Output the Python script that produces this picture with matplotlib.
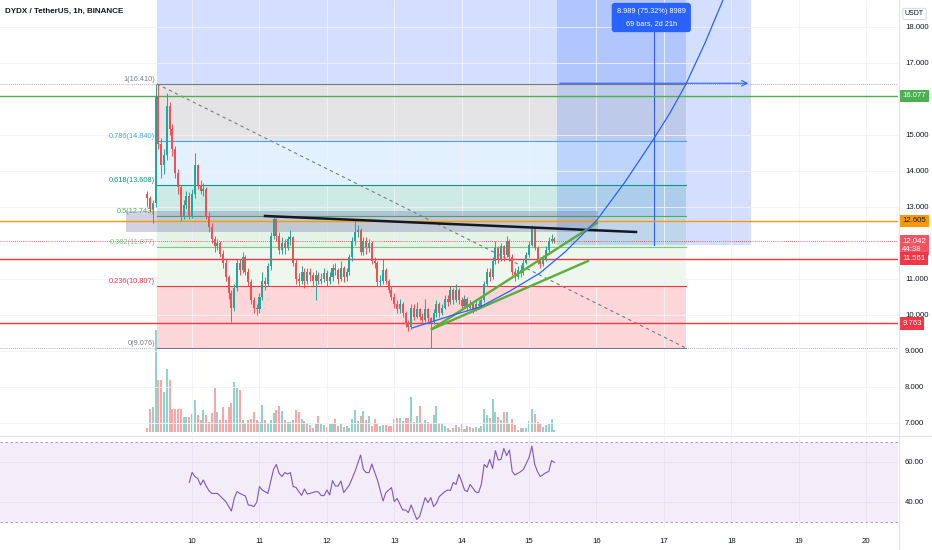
import numpy as np
import matplotlib
matplotlib.use('Agg')
import matplotlib.pyplot as plt
from matplotlib.lines import Line2D
from matplotlib.patches import Rectangle
from matplotlib.transforms import blended_transform_factory

plt.rcParams['font.family'] = ['Liberation Sans', 'DejaVu Sans']

# ---- candles: 1h bars, first bar on day 9 at 08:00 ----
first_day = 9 + 8 / 24
first_open = 13.35
closes = [13.25, 12.95, 13.10, 16.05, 14.75, 14.15, 14.45, 15.80, 15.15, 14.60,
          13.95, 13.55, 12.75, 13.05, 13.30, 12.75, 13.35, 14.15, 13.60, 13.45,
          13.50, 12.75, 12.45, 12.10, 11.90, 12.00, 11.70, 11.45, 11.05, 10.60,
          10.20, 10.75, 11.45, 11.25, 11.60, 11.20, 10.90, 10.40, 10.20, 10.15,
          10.50, 10.95, 10.85, 11.35, 12.20, 12.65, 12.20, 11.80, 12.00, 11.85,
          12.10, 12.15, 11.45, 11.00, 10.95, 11.20, 10.95, 11.20, 11.10, 10.95,
          11.10, 10.95, 11.00, 11.15, 10.95, 11.05, 11.30, 11.25, 11.00, 11.30,
          11.05, 11.20, 11.60, 12.05, 12.30, 12.35, 11.75, 12.05, 11.85, 12.00,
          11.50, 11.45, 10.90, 10.95, 11.25, 10.95, 10.70, 10.50, 10.30, 10.15,
          10.30, 10.05, 9.75, 9.65, 10.20, 9.95, 10.15, 9.95, 9.85, 10.15,
          9.90, 9.80, 10.05, 10.30, 10.05, 10.20, 10.45, 10.35, 10.70, 10.40,
          10.70, 10.40, 10.25, 10.45, 10.20, 10.30, 10.15, 10.30, 10.25, 10.40,
          10.85, 11.20, 11.05, 11.50, 11.85, 11.55, 11.90, 11.65, 12.05, 11.60,
          11.20, 11.05, 11.25, 11.15, 11.45, 11.65, 11.95, 12.40, 11.85, 11.50,
          11.40, 11.55, 11.80, 12.05, 12.10, 12.04]
highs = [13.45, 13.30, 13.20, 16.41, 16.41, 14.90, 14.60, 16.15, 15.90, 15.30,
         14.70, 14.05, 13.60, 13.20, 13.45, 13.40, 13.50, 14.50, 14.20, 13.75,
         13.65, 13.55, 12.85, 12.55, 12.20, 12.10, 12.05, 11.80, 11.55, 11.10,
         10.70, 10.85, 11.55, 11.55, 11.75, 11.65, 11.30, 11.00, 10.50, 10.30,
         10.60, 11.20, 11.05, 11.45, 12.30, 12.75, 12.70, 12.30, 12.15, 12.10,
         12.20, 12.35, 12.20, 11.55, 11.15, 11.35, 11.30, 11.30, 11.30, 11.20,
         11.25, 11.20, 11.15, 11.30, 11.25, 11.20, 11.40, 11.45, 11.30, 11.50,
         11.35, 11.30, 11.70, 12.15, 12.65, 12.50, 12.40, 12.15, 12.15, 12.10,
         12.05, 11.60, 11.50, 11.10, 11.55, 11.30, 11.00, 10.80, 10.60, 10.40,
         10.45, 10.35, 10.10, 9.85, 10.30, 10.30, 10.35, 10.20, 10.05, 10.45,
         10.20, 9.95, 10.15, 10.40, 10.35, 10.30, 10.55, 10.55, 10.80, 10.75,
         10.85, 10.75, 10.50, 10.55, 10.50, 10.40, 10.35, 10.40, 10.40, 10.50,
         10.95, 11.30, 11.30, 11.60, 12.05, 11.90, 12.00, 11.95, 12.20, 12.10,
         11.70, 11.30, 11.35, 11.35, 11.55, 11.75, 12.05, 12.50, 12.45, 11.90,
         11.60, 11.65, 11.90, 12.15, 12.25, 12.15]
lows = [13.00, 12.85, 12.55, 13.00, 14.60, 13.80, 13.90, 14.30, 15.00, 14.40,
        13.80, 13.35, 12.60, 12.65, 12.95, 12.65, 12.70, 13.25, 13.50, 13.35,
        13.30, 12.65, 12.30, 12.00, 11.75, 11.80, 11.60, 11.30, 10.95, 10.45,
        9.80, 10.10, 10.65, 11.10, 11.15, 11.10, 10.80, 10.30, 10.05, 10.00,
        10.05, 10.40, 10.70, 10.80, 11.25, 12.10, 12.05, 11.70, 11.70, 11.70,
        11.80, 11.95, 11.35, 10.85, 10.80, 10.85, 10.75, 10.85, 10.95, 10.80,
        10.40, 10.85, 10.85, 10.90, 10.80, 10.85, 10.95, 11.10, 10.85, 10.95,
        10.90, 10.95, 11.10, 11.50, 11.95, 12.15, 11.65, 11.65, 11.70, 11.75,
        11.40, 11.30, 10.80, 10.80, 10.85, 10.85, 10.60, 10.40, 10.20, 10.05,
        10.05, 9.95, 9.65, 9.55, 9.60, 9.85, 9.90, 9.85, 9.75, 9.80,
        9.80, 9.08, 9.75, 9.95, 9.95, 10.00, 10.15, 10.25, 10.30, 10.30,
        10.35, 10.30, 10.15, 10.20, 10.10, 10.15, 10.05, 10.10, 10.15, 10.20,
        10.35, 10.80, 10.95, 11.00, 11.40, 11.45, 11.50, 11.50, 11.60, 11.50,
        11.10, 10.95, 11.00, 11.05, 11.10, 11.40, 11.60, 11.90, 11.80, 11.40,
        11.30, 11.35, 11.50, 11.75, 12.00, 11.98]
volumes = [4, 23, 25, 102, 52, 52, 40, 63, 52, 23, 23,
           23, 23, 15, 15, 15, 18, 32, 17, 12, 22,
           17, 10, 19, 44, 20, 12, 25, 12, 25, 29,
           50, 44, 42, 12, 8, 12, 13, 20, 12, 10,
           27, 12, 9, 12, 19, 22, 26, 21, 12, 10,
           10, 12, 22, 20, 13, 11, 9, 7, 4,
           8, 16, 8, 7, 5, 8, 8, 13, 6, 8,
           5, 6, 4, 13, 22, 11, 16, 21, 12, 16,
           6, 13, 8, 6, 7, 7, 6, 6, 13,
           14, 14, 11, 14, 14, 35, 10, 16, 26, 9,
           12, 10, 8, 17, 26, 9, 9, 6, 4,
           2, 4, 7, 5, 8, 3, 6, 5, 4,
           5, 4, 6, 23, 17, 14, 33, 20, 15, 12,
           20, 20, 9, 13, 7, 2, 4, 4, 4, 11,
           23, 18, 10, 9, 5, 7, 8, 13, 2]

# RSI(14) readings, keyed by bar index
rsi_bar = [15, 16, 17, 18, 19, 20, 21, 22, 23, 25, 26, 28, 30, 31, 32, 33, 35, 36, 37, 38,
           39, 40, 41, 43, 45, 46, 47, 48, 49, 50, 51, 52, 53, 54, 55, 56, 57, 58, 60, 61,
           62, 63, 64, 65, 66, 67, 68, 69, 70, 72, 74, 76, 77, 78, 79, 80, 82, 84, 85, 87,
           88, 89, 91, 92, 93, 94, 96, 97, 99, 100, 101, 102, 103, 104, 106, 107, 108, 109, 110, 111,
           112, 113, 114, 115, 117, 118, 119, 120, 121, 122, 123, 124, 125, 126, 127, 128, 129, 130, 131, 133,
           134, 136, 137, 138, 139, 140, 142, 143, 144, 145]
rsi_val = [49.8, 54.8, 52.7, 51.8, 48.5, 51.0, 48.0, 45.7, 44.3, 44.3, 43.0, 40.2, 35.5, 41.8, 45.2, 44.3, 43.0, 38.5, 38.3, 37.7,
           39.8, 47.7, 46.0, 44.3, 56.3, 58.8, 54.3, 52.7, 54.7, 54.0, 54.7, 47.7, 47.3, 45.2, 43.3, 46.5, 44.0, 44.3, 45.2, 45.0,
           43.2, 43.2, 46.0, 43.5, 50.7, 48.0, 48.0, 50.5, 44.7, 48.5, 55.2, 63.5, 56.3, 54.7, 54.7, 59.0, 51.0, 40.5, 44.7, 47.2,
           40.2, 41.8, 36.0, 36.0, 34.7, 38.5, 31.3, 32.7, 42.2, 39.7, 42.2, 37.7, 39.3, 42.7, 45.2, 46.0, 45.8, 49.8, 48.8, 53.8,
           50.2, 46.0, 45.2, 48.8, 45.0, 44.7, 48.8, 58.8, 57.3, 61.3, 56.8, 65.7, 61.0, 61.3, 66.8, 63.2, 66.0, 55.2, 53.5, 55.2,
           56.3, 62.3, 68.0, 58.8, 55.2, 52.7, 54.7, 55.2, 60.7, 59.8]

# ---- drawings ----
fib_ratios = [1, 0.786, 0.618, 0.5, 0.382, 0.236, 0]
fib_prices = [16.410, 14.840, 13.608, 12.743, 11.877, 10.807, 9.076]
fib_colors = ['#787b86', '#42a5f5', '#089981', '#4caf50', '#81c784', '#f23645', '#787b86']
fib_alpha = [0.2, 0.15, 0.2, 0.14, 0.14, 0.2]
fib_days = (9.479, 17.328)

hlines = [(16.077, '#4caf50', 'white'), (12.605, '#ff9800', '#131722'),
          (11.561, '#f23645', 'white'), (9.763, '#f23645', 'white')]
last_price = 12.042
countdown = '44:38'

zone_days = (9.019, 16.022)
zone_prices = (12.299, 12.882)
resist_days = (11.082, 16.586)
resist_prices = (12.743, 12.299)
support_days = (13.560, 16.007)
support_prices = (9.604, 12.549)
support2_days = (13.560, 15.874)
support2_prices = (9.604, 11.493)
arc_days = [13.263, 13.827, 14.272, 14.717, 15.162, 15.533, 15.859, 16.007, 16.423,
            16.838, 17.090, 17.328, 17.610, 17.877, 17.996]
arc_prices = [9.632, 9.966, 10.216, 10.660, 11.160, 11.743, 12.354, 12.632, 13.688,
              14.854, 15.604, 16.410, 17.549, 18.743, 19.300]
range_days = (15.414, 18.293)
range_prices = (11.934, 20.923)
range_text = '8.989 (75.32%) 8989\n69 bars, 2d 21h'

price_ticks = [7, 8, 9, 10, 11, 13, 14, 15, 17, 18]
day_ticks = list(range(10, 21))
rsi_ticks = [40, 60]

UP, DOWN = '#26a69a', '#ef5350'
TXT = '#131722'
GRID = '#f0f3fa'

W, H = 932, 550
fig = plt.figure(figsize=(W / 100, H / 100), dpi=100, facecolor='white')
ax = fig.add_axes([0, 1 - 435 / H, 898 / W, 435 / H])
ax_v = ax.twinx()
ax_r = fig.add_axes([0, 1 - 528 / H, 898 / W, 92 / H])

xlim = (7.15, 7.15 + 898 / 67.4)
ax.set_xlim(*xlim)
ax.set_ylim(6.66, 18.743)
ax_r.set_xlim(*xlim)
ax_r.set_ylim(27, 73)

n = len(closes)
t = first_day + np.arange(n) / 24
c = np.array(closes)
o = np.array([first_open] + closes[:-1])
col = np.where(c >= o, UP, DOWN)

# volume overlay (behind everything else)
ax_v.set_zorder(ax.get_zorder() - 1)
ax.patch.set_visible(False)
ax_v.bar(t, volumes, width=0.72 / 24, color=col, alpha=0.5, linewidth=0)
ax_v.set_ylim(-3.3, 431.7)
ax_v.set_axis_off()

# fib retracement
x0, x1 = fib_days
for k in range(len(fib_prices) - 1):
    ax.add_patch(Rectangle((x0, fib_prices[k + 1]), x1 - x0, fib_prices[k] - fib_prices[k + 1],
                           facecolor=fib_colors[k], alpha=fib_alpha[k], lw=0, zorder=1))
for r, p, cl in zip(fib_ratios, fib_prices, fib_colors):
    ax.plot([x0, x1], [p, p], color=cl, lw=0.8, zorder=2)
    ax.text(x0 - 0.03, p + 0.02, f'{r}({p:.3f})', color=cl, fontsize=5.3,
            ha='right', va='bottom', zorder=3)
for p in (fib_prices[0], fib_prices[-1]):
    ax.plot(xlim, [p, p], color='#9598a1', lw=0.6, ls=(0, (1, 1.5)), zorder=1.5)
ax.plot([x0, x1], [fib_prices[0], fib_prices[-1]], color='#787b86', lw=0.8,
        ls=(0, (3, 3)), zorder=3)

# blue rectangles
ax.add_patch(Rectangle((x0, fib_prices[0]), x1 - x0, 30, facecolor='#2962ff', alpha=0.2, lw=0, zorder=1))
rx0, rx1 = range_days
ax.add_patch(Rectangle((rx0, range_prices[0]), rx1 - rx0, range_prices[1] - range_prices[0],
                       facecolor='#2962ff', alpha=0.2, lw=0, zorder=1.2))
mid_day = (rx0 + rx1) / 2
ax.plot([mid_day, mid_day], [range_prices[0], 17.9], color='#2962ff', lw=0.8, zorder=4)
ax.annotate('', xy=(rx1, 16.43), xytext=(rx0, 16.43),
            arrowprops=dict(arrowstyle='->', color='#2962ff', lw=0.8), zorder=4)
ax.text(mid_day - 0.04, 18.52, range_text, ha='center', va='top', fontsize=5.3, color='white',
        linespacing=2.0, zorder=30,
        bbox=dict(boxstyle='round,pad=0.7,rounding_size=0.4', fc='#2962ff', ec='none'))

# supply zone
ax.add_patch(Rectangle((zone_days[0], zone_prices[0]), zone_days[1] - zone_days[0],
                       zone_prices[1] - zone_prices[0], facecolor='#6a6aa8', alpha=0.3,
                       lw=0, zorder=2.5))

# horizontal levels
for p, cl, _ in hlines:
    ax.axhline(p, color=cl, lw=1.0, zorder=4)
ax.axhline(last_price, color='#f23645', lw=0.6, ls=(0, (1, 1.5)), zorder=4)

# trend lines and arc
ax.plot(resist_days, resist_prices, color='#131722', lw=1.8, zorder=8)
ax.plot(support_days, support_prices, color='#5cad3c', lw=1.7, zorder=8)
ax.plot(support2_days, support2_prices, color='#5cad3c', lw=1.7, zorder=8)
ax.plot(arc_days, arc_prices, color='#2962ff', lw=0.9, zorder=8)

# candles
ax.vlines(t, lows, highs, colors=col, lw=0.7, zorder=6)
body = np.maximum(np.abs(c - o), 0.03)
ax.bar(t, body, bottom=np.minimum(o, c), width=0.72 / 24, color=col, lw=0, zorder=7)

# axes styling
ax.yaxis.tick_right()
ax.set_yticks(price_ticks)
ax.set_yticklabels([f'{v:.3f}' for v in price_ticks])
ax.set_xticks(day_ticks)
ax.tick_params(axis='x', length=0, labelbottom=False)
ax.tick_params(axis='y', length=0, pad=5, labelsize=5.6, labelcolor=TXT)
ax.grid(color=GRID, lw=0.6, zorder=0)
for s in ax.spines.values():
    s.set_visible(False)

tr = blended_transform_factory(ax.transAxes, ax.transData)
def tag(price, text, fc, tc, dy=0):
    ax.annotate(text, xy=(1, price), xycoords=tr, xytext=(3, dy), textcoords='offset points',
                ha='left', va='center', fontsize=5.6, color=tc, linespacing=1.1,
                annotation_clip=False, zorder=40,
                bbox=dict(boxstyle='square,pad=0.35', fc=fc, ec='none'))

tag(last_price, f'{last_price:.3f}\n{countdown}', '#f7525f', 'white', dy=-3)
for p, cl, tc in hlines:
    tag(p, f'{p:.3f}', cl, tc)
ax.annotate('USDT', xy=(1, 1), xycoords='axes fraction', xytext=(5, -10),
            textcoords='offset points', ha='left', va='center', fontsize=5, color=TXT,
            annotation_clip=False,
            bbox=dict(boxstyle='round,pad=0.3,rounding_size=0.2', fc='white', ec='#d1d4dc', lw=0.6))

# RSI pane
ax_r.axhspan(30, 70, color='#9c4dcc', alpha=0.1, lw=0)
for lvl in (30, 70):
    ax_r.axhline(lvl, color='#9598a1', lw=0.6, ls=(0, (3, 3)))
ax_r.plot(t[rsi_bar], rsi_val, color='#7e57c2', lw=0.8)
ax_r.yaxis.tick_right()
ax_r.set_yticks(rsi_ticks)
ax_r.set_yticklabels([f'{v:.2f}' for v in rsi_ticks])
ax_r.set_xticks(day_ticks)
ax_r.set_xticklabels([str(d) for d in day_ticks])
ax_r.tick_params(length=0, labelsize=5.6, labelcolor=TXT)
ax_r.tick_params(axis='x', pad=7)
ax_r.tick_params(axis='y', pad=5)
ax_r.grid(color=GRID, lw=0.6)
ax_r.set_axisbelow(True)
for s in ax_r.spines.values():
    s.set_visible(False)

fig.add_artist(Line2D([898.5 / W] * 2, [0, 1], transform=fig.transFigure, color='#e0e3eb', lw=0.8))
fig.add_artist(Line2D([0, 1], [1 - 435.5 / H] * 2, transform=fig.transFigure, color='#e0e3eb', lw=0.8))

fig.text(5 / W, 1 - 11 / H, 'DYDX / TetherUS, 1h, BINANCE', fontsize=5.8, fontweight='semibold',
         color=TXT, va='center', ha='left')

fig.savefig('out.png', dpi=100, facecolor='white')
